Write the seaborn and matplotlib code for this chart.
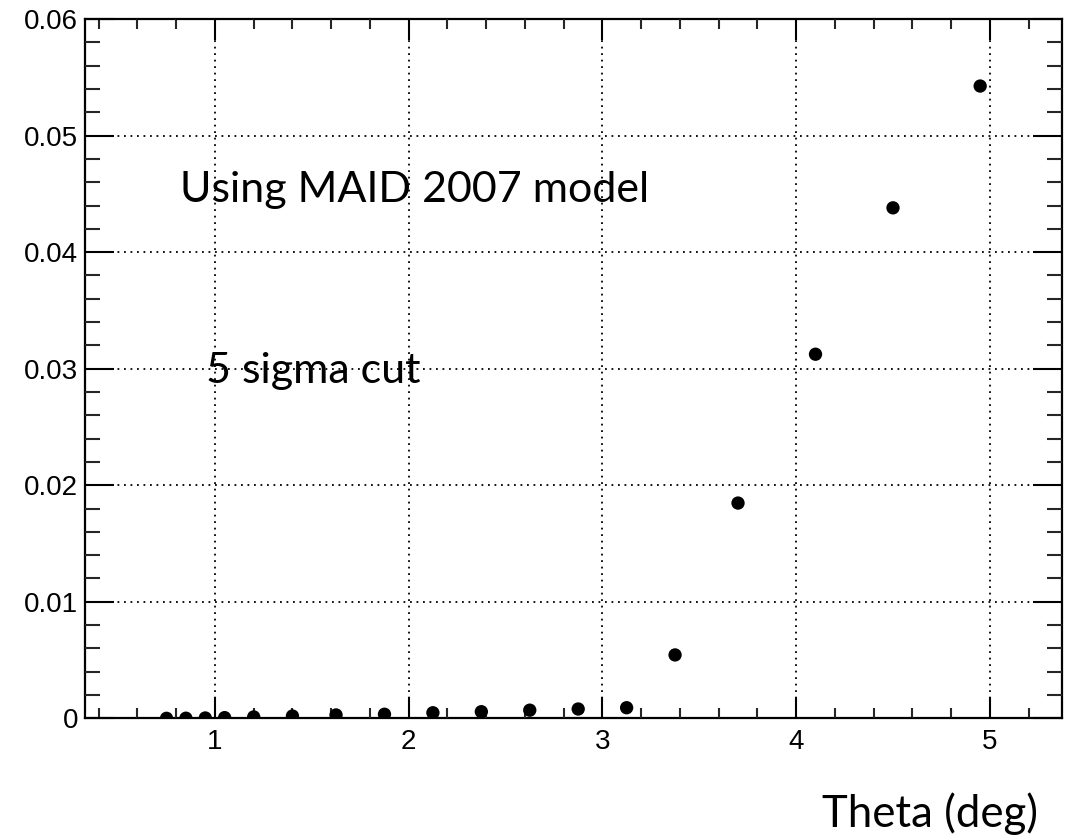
import matplotlib
matplotlib.use("Agg")
import matplotlib.pyplot as plt
import seaborn as sns
import pandas as pd
from matplotlib.ticker import MultipleLocator, FixedLocator

theta = [0.75, 0.85, 0.95, 1.05, 1.2, 1.4, 1.625, 1.875, 2.125, 2.375,
         2.625, 2.875, 3.125, 3.375, 3.7, 4.1, 4.5, 4.95]
value = [0.0, 0.00001, 0.00003, 0.00006, 0.00012, 0.0002, 0.00029, 0.00035,
         0.00048, 0.00057, 0.0007, 0.0008, 0.00091, 0.00544, 0.01847,
         0.03124, 0.0438, 0.05425]
x_ticks = [1, 2, 3, 4, 5]
x_tick_labels = ["1", "2", "3", "4", "5"]
y_ticks = [0, 0.01, 0.02, 0.03, 0.04, 0.05, 0.06]
y_tick_labels = ["0", "0.01", "0.02", "0.03", "0.04", "0.05", "0.06"]
annotations = ["Using MAID 2007 model", "5 sigma cut"]
x_label = "Theta (deg)"

df = pd.DataFrame({"theta": theta, "value": value})

sns.set_style("white")
plt.rcParams["font.family"] = ["Liberation Sans", "DejaVu Sans"]

fig = plt.figure(figsize=(10.77, 8.38), dpi=100)
ax = fig.add_axes([0.0789, 0.1428, 0.9071, 0.8345])

sns.scatterplot(data=df, x="theta", y="value", ax=ax, color="black",
                s=92, edgecolor="none", linewidth=0, zorder=5)

ax.set_xlim(0.329, 5.372)
ax.set_ylim(0, 0.06)
ax.xaxis.set_major_locator(FixedLocator(x_ticks))
ax.set_xticklabels(x_tick_labels)
ax.yaxis.set_major_locator(FixedLocator(y_ticks))
ax.set_yticklabels(y_tick_labels)
ax.xaxis.set_minor_locator(MultipleLocator(0.2))
ax.yaxis.set_minor_locator(MultipleLocator(0.002))
ax.set_xlabel("")
ax.set_ylabel("")

ax.grid(True, which="major", color="black", linestyle=(0, (1, 2.6)), linewidth=1.3)
ax.set_axisbelow(False)

for sp in ax.spines.values():
    sp.set_visible(True)
    sp.set_color("black")
    sp.set_linewidth(1.6)

ax.tick_params(axis="x", which="major", direction="in", length=15, width=1.5,
               top=True, bottom=True, labelsize=20, pad=8, colors="black")
ax.tick_params(axis="x", which="minor", direction="in", length=7.5, width=1.5,
               top=True, bottom=True)
ax.tick_params(axis="y", which="major", direction="in", length=21, width=1.5,
               left=True, right=True, labelsize=20, pad=5, colors="black")
ax.tick_params(axis="y", which="minor", direction="in", length=10.5, width=1.5,
               left=True, right=True)

fig.text(0.167, 0.7593, annotations[0], family=["Lato", "DejaVu Sans"],
         fontsize=31, va="baseline", ha="left", color="black")
fig.text(0.1913, 0.543, annotations[1], family=["Lato", "DejaVu Sans"],
         fontsize=31, va="baseline", ha="left", color="black")
fig.text(0.7632, 0.0135, x_label, family=["Lato", "DejaVu Sans"],
         fontsize=31.5, va="baseline", ha="left", color="black")

fig.savefig("out.png", dpi=100)
